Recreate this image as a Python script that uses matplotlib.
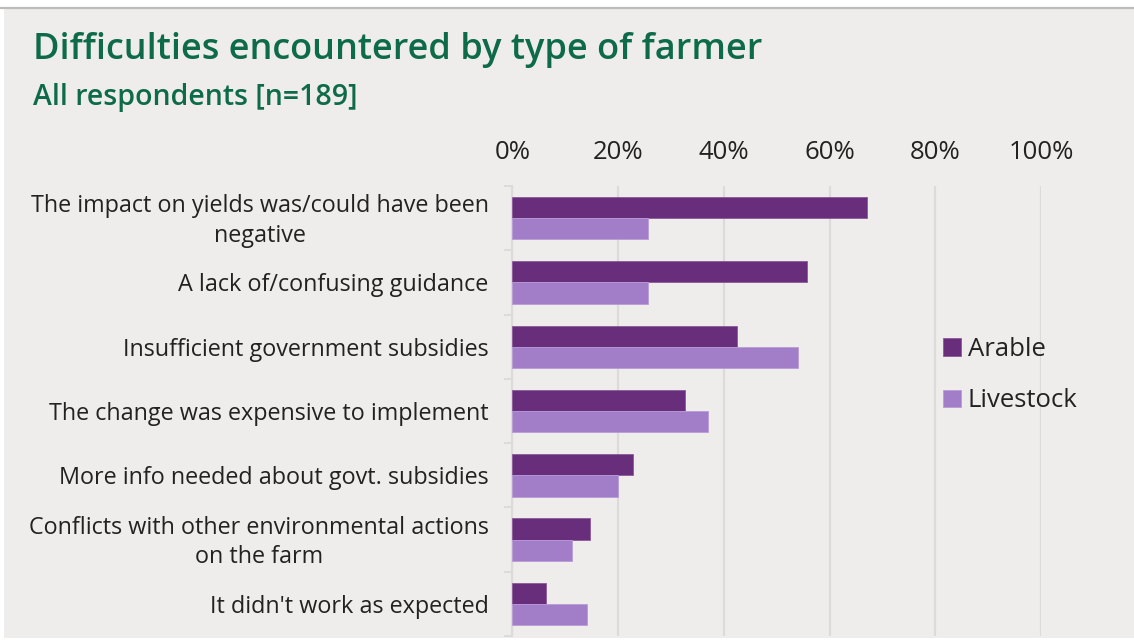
import matplotlib.pyplot as plt
from matplotlib.patches import Rectangle
from matplotlib.lines import Line2D
from matplotlib.transforms import ScaledTranslation
import numpy as np

plt.rcParams['font.family'] = ['Open Sans', 'DejaVu Sans']

# survey answers, share of respondents (%)
categories = ['The impact on yields was/could have been\nnegative',
              'A lack of/confusing guidance',
              'Insufficient government subsidies',
              'The change was expensive to implement',
              'More info needed about govt. subsidies',
              'Conflicts with other environmental actions\non the farm',
              "It didn't work as expected"]
arable = [67.0, 55.7, 42.5, 32.6, 22.9, 14.7, 6.4]
livestock = [25.7, 25.7, 54.1, 37.0, 20.0, 11.3, 14.1]
xticks = [0, 20, 40, 60, 80, 100]

dark = '#692e7b'
light = '#a27ec9'
green = '#0d6a4a'
bg = '#eeedeb'
grid = '#dcdbda'

fig = plt.figure(figsize=(11.34, 6.4), dpi=100, facecolor='white')
# grey panel with a thin rule along its top
fig.patches.append(Rectangle((4/1134, 2/640), 1, 630/640, transform=fig.transFigure,
                             facecolor=bg, edgecolor='none', zorder=-10))
fig.lines.append(Line2D([0, 1], [632.5/640, 632.5/640], transform=fig.transFigure,
                        color='#bcbcbc', lw=1.6, zorder=-9))

ax = fig.add_axes([512.3/1134, 4/640, (1041-512.3)/1134, 450/640])
ax.set_facecolor('none')

y = np.arange(len(categories))
h = 0.33
ax.barh(y - h/2, arable, height=h, color=dark, edgecolor='#8a5a9b', linewidth=0.6,
        label='Arable', zorder=3)
ax.barh(y + h/2, livestock, height=h, color=light, edgecolor='#b99bd6', linewidth=0.6,
        label='Livestock', zorder=3)

ax.set_xlim(0, 100)
ax.set_ylim(len(categories) - 0.5, -0.5)
ax.xaxis.tick_top()
ax.set_xticks(xticks)
ax.set_xticklabels([f'{t}%' for t in xticks])
ax.tick_params(axis='x', length=0, pad=15, labelsize=18.5, labelcolor='#222222')
ax.grid(axis='x', color=grid, lw=1.6, zorder=0)

# category labels sit between boundary ticks
ax.set_yticks(y)
ax.set_yticks(np.arange(len(categories) + 1) - 0.5, minor=True)
ax.tick_params(axis='y', which='major', length=0, pad=17, labelsize=16.8, labelcolor='#222222')
ax.tick_params(axis='y', which='minor', length=6, width=1.4, color=grid)
ax.set_yticklabels(categories, linespacing=1.3, multialignment='center', va='center')
nudge = ScaledTranslation(0, -3/100, fig.dpi_scale_trans)
for lab in ax.get_yticklabels():
    lab.set_transform(lab.get_transform() + nudge)

for s in ['top', 'right', 'bottom']:
    ax.spines[s].set_visible(False)
ax.spines['left'].set_color(grid)
ax.spines['left'].set_linewidth(1.6)

leg = fig.legend(loc='center left', bbox_to_anchor=(920/1134, 1 - 375/640), frameon=False,
                 fontsize=18.5, handlelength=0.7, handleheight=0.7, handletextpad=0.25,
                 labelspacing=1.05)
for t in leg.get_texts():
    t.set_color('#222222')

fig.text(33/1134, 1 - 50/640, 'Difficulties encountered by type of farmer', color=green,
         fontsize=26, fontweight='semibold', va='center', ha='left')
fig.text(33/1134, 1 - 98/640, 'All respondents [n=189]', color=green,
         fontsize=20.5, fontweight='semibold', va='center', ha='left')

fig.savefig('out.png', dpi=100, facecolor=fig.get_facecolor())
